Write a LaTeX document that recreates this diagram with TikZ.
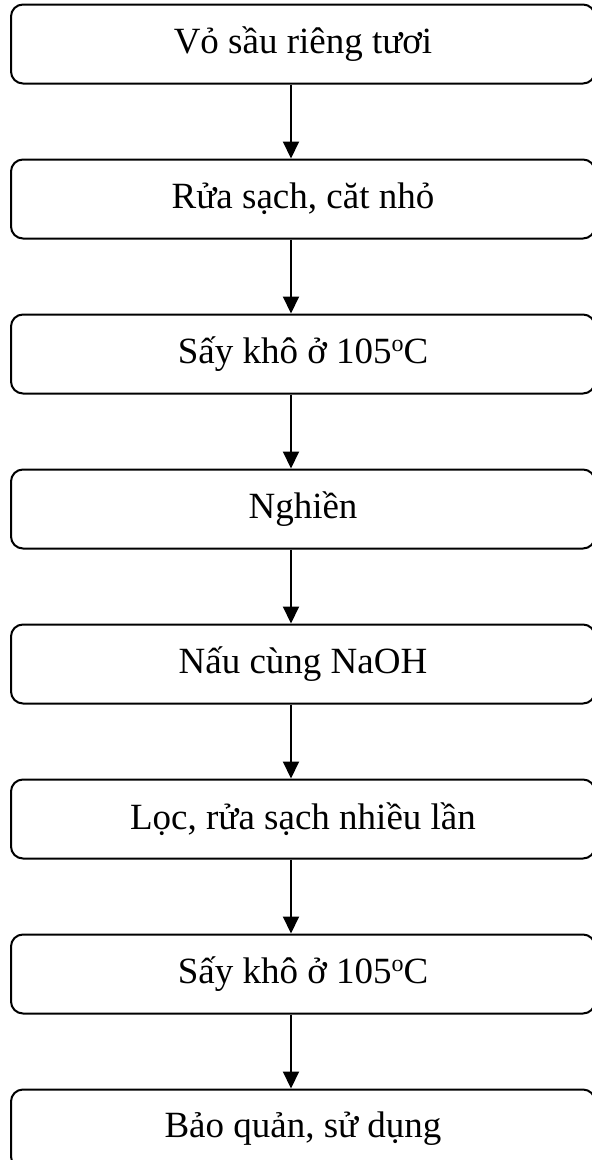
\documentclass[tikz,border=0pt]{standalone}
\usepackage{fontspec}
\setmainfont{Liberation Serif}
\usepackage{xcolor}
\usetikzlibrary{arrows.meta}
\newcommand{\smallo}{\raisebox{12pt}{\fontsize{24}{24}\selectfont o}}

\begin{document}
\begin{tikzpicture}[x=1pt,y=-1pt]
			\tikzstyle{stage} = [draw, line width=2pt, rounded corners=12pt, minimum width=584pt, minimum height=79pt, inner sep=0pt, font=\fontsize{37}{40}\selectfont]
			\tikzset{edge/.style = {line width=2pt, -{Triangle[length=17pt,width=16pt]}}}
			\useasboundingbox (0,0) rectangle (592,1160);
			
			\coordinate (spine) at (291,0);
			
			\node[stage](stage1) at (303,44) {Vỏ sầu riêng tươi};
			\node[stage](stage2) at (303,199) {Rửa sạch, căt nhỏ};
			\node[stage](stage3) at (303,354) {Sấy khô ở 105\smallo C};
			\node[stage](stage4) at (303,509) {Nghiền};
			\node[stage](stage5) at (303,664) {Nấu cùng NaOH};
			\node[stage](stage6) at (303,819) {Lọc, rửa sạch nhiều lần};
			\node[stage](stage7) at (303,974) {Sấy khô ở 105\smallo C};
			\node[stage](stage8) at (303,1129) {Bảo quản, sử dụng};
			
			\draw[edge](stage1.south -| spine) to (stage2.north -| spine);
			\draw[edge](stage2.south -| spine) to (stage3.north -| spine);
			\draw[edge](stage3.south -| spine) to (stage4.north -| spine);
			\draw[edge](stage4.south -| spine) to (stage5.north -| spine);
			\draw[edge](stage5.south -| spine) to (stage6.north -| spine);
			\draw[edge](stage6.south -| spine) to (stage7.north -| spine);
			\draw[edge](stage7.south -| spine) to (stage8.north -| spine);
			
			\end{tikzpicture}
\end{document}
